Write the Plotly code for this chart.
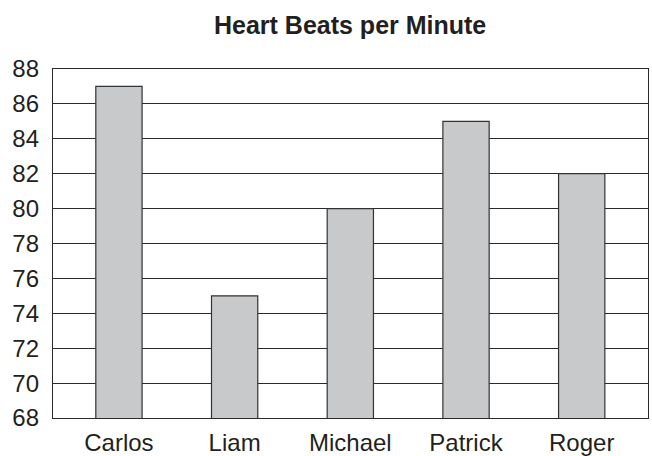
import plotly.graph_objects as go

names = ["Carlos", "Liam", "Michael", "Patrick", "Roger"]
beats = [87, 75, 80, 85, 82]
y_ticks = list(range(68, 89, 2))

ink = "#231f20"
fig = go.Figure()
fig.add_trace(go.Bar(
    x=names, y=beats, width=0.4,
    marker=dict(color="#c8c9cb", line=dict(color="#333333", width=1.2)),
))
fig.update_layout(
    width=652, height=456,
    margin=dict(l=53, r=4, t=69, b=38),
    paper_bgcolor="white", plot_bgcolor="white",
    showlegend=False,
    font=dict(family="Liberation Sans, Arial, sans-serif", color=ink, size=24),
    title=dict(text="<b>Heart Beats per Minute</b>", x=0.537, xanchor="center",
               y=0.944, yanchor="middle", font=dict(size=25, color=ink)),
)
fig.update_xaxes(
    range=[-0.57, 4.573], showgrid=False, showline=True, mirror=True,
    linecolor="#2a2a2a", linewidth=1.2, ticks="", tickfont=dict(size=24),
    ticklabelstandoff=3, automargin=False,
)
fig.update_yaxes(
    range=[68, 88], tickvals=y_ticks, showgrid=True, gridcolor="#2a2a2a",
    gridwidth=1, showline=True, mirror=True, linecolor="#2a2a2a",
    linewidth=1.2, ticks="", tickfont=dict(size=24), zeroline=False,
    ticklabelstandoff=8, automargin=False,
)
fig.write_html(
    "out.html",
    config={"displayModeBar": False, "staticPlot": True},
    post_script="document.body.style.margin='0';document.body.style.overflow='hidden';",
)
